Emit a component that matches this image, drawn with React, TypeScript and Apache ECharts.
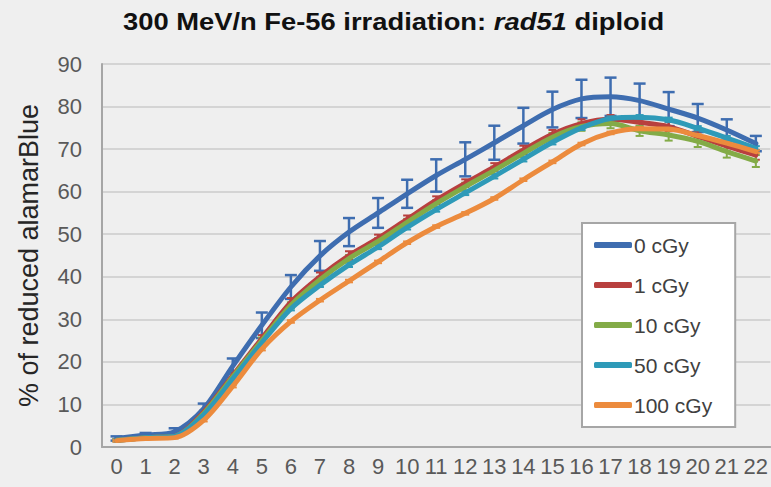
import React, { useEffect, useRef } from "react";
import * as echarts from "echarts";

const categories = ["0","1","2","3","4","5","6","7","8","9","10","11","12","13","14","15","16","17","18","19","20","21","22"];

const dose0 = [2.0, 2.8, 3.6, 9.0, 19.0, 28.6, 37.6, 44.9, 50.5, 55.0, 59.5, 63.8, 67.6, 71.5, 75.5, 79.3, 81.8, 82.3, 81.4, 79.4, 77.3, 74.5, 71.3];
const err0 = [0.5, 0.5, 0.8, 1.2, 1.8, 3.0, 2.8, 3.5, 3.3, 3.5, 3.3, 3.8, 4.0, 4.0, 4.2, 4.2, 4.5, 4.5, 4.0, 4.0, 3.3, 2.5, 1.8];

const dose1 = [1.6, 2.2, 2.5, 8.2, 16.8, 25.5, 34.0, 40.0, 45.0, 49.0, 53.5, 58.0, 62.0, 65.8, 69.8, 73.5, 76.0, 77.0, 76.3, 75.3, 73.0, 70.7, 68.6];
const err1 = [0.3, 0.3, 0.3, 0.5, 0.6, 0.8, 1.0, 1.0, 1.0, 0.9, 0.9, 0.9, 0.9, 0.9, 1.0, 1.0, 1.0, 1.0, 1.0, 1.1, 1.2, 1.2, 1.1];

const dose10 = [1.6, 2.2, 2.5, 7.9, 16.5, 25.0, 33.3, 39.3, 44.3, 48.3, 52.8, 57.2, 61.2, 65.0, 69.0, 72.8, 75.3, 76.0, 74.3, 73.3, 71.8, 69.4, 67.2];
const err10 = [0.3, 0.3, 0.3, 0.5, 0.6, 0.7, 0.7, 0.7, 0.8, 0.8, 0.8, 0.8, 0.9, 0.9, 0.9, 1.0, 1.0, 1.1, 1.2, 1.3, 1.3, 1.4, 1.4];

const dose50 = [1.6, 2.2, 2.5, 7.6, 16.0, 24.5, 32.5, 38.0, 42.8, 47.0, 51.6, 55.8, 59.7, 63.6, 67.6, 71.6, 75.0, 77.2, 77.5, 76.9, 74.9, 72.6, 70.2];
const err50 = [0.2, 0.2, 0.2, 0.3, 0.4, 0.4, 0.4, 0.4, 0.5, 0.5, 0.5, 0.5, 0.5, 0.5, 0.5, 0.5, 0.5, 0.5, 0.5, 0.5, 0.5, 0.5, 0.5];

const dose100 = [1.5, 2.0, 2.2, 6.3, 14.3, 23.0, 29.5, 34.5, 39.0, 43.5, 48.0, 51.8, 54.9, 58.4, 62.8, 67.0, 71.2, 73.8, 74.8, 74.7, 73.2, 71.4, 69.4];
const err100 = [0.2, 0.2, 0.2, 0.3, 0.3, 0.3, 0.3, 0.3, 0.3, 0.3, 0.3, 0.3, 0.3, 0.3, 0.3, 0.3, 0.3, 0.3, 0.3, 0.3, 0.3, 0.3, 0.3];

const seriesNames = ["0 cGy", "1 cGy", "10 cGy", "50 cGy", "100 cGy"];
const seriesColors = ["#3e6db0", "#b8403e", "#83ab47", "#2e9ab8", "#ec8b3d"];
const seriesValues = [dose0, dose1, dose10, dose50, dose100];
const seriesErrors = [err0, err1, err10, err50, err100];

const FONT = "'Liberation Sans', Arial, Helvetica, sans-serif";

export default function App() {
  const ref = useRef<HTMLDivElement>(null);

  useEffect(() => {
    if (!ref.current) return;
    const chart = echarts.init(ref.current, null, { renderer: "svg" });

    const series: any[] = [];
    seriesNames.forEach((name, s) => {
      const color = seriesColors[s];
      const vals = seriesValues[s];
      const errs = seriesErrors[s];
      const capHalf = s === 0 ? 6 : 4;
      const lw = s === 0 ? 2.5 : 2;
      series.push({
        name: name + " error",
        type: "custom",
        silent: true,
        encode: { x: 0, y: [1, 2] },
        data: vals.map((v, i) => [i, v - errs[i], v + errs[i]]),
        renderItem: (params: any, api: any) => {
          const idx = api.value(0);
          const lo = api.coord([idx, api.value(1)]);
          const hi = api.coord([idx, api.value(2)]);
          const st = { stroke: color, lineWidth: lw };
          return {
            type: "group",
            children: [
              { type: "line", shape: { x1: lo[0], y1: lo[1], x2: hi[0], y2: hi[1] }, style: st },
              { type: "line", shape: { x1: lo[0] - capHalf, y1: lo[1], x2: lo[0] + capHalf, y2: lo[1] }, style: st },
              { type: "line", shape: { x1: hi[0] - capHalf, y1: hi[1], x2: hi[0] + capHalf, y2: hi[1] }, style: st },
            ],
          };
        },
      });
      series.push({
        name,
        type: "line",
        data: vals,
        smooth: 0.3,
        showSymbol: false,
        symbol: "none",
        color,
        lineStyle: { color, width: 5, cap: "round", join: "round" },
      });
    });

    chart.setOption({
      animation: false,
      backgroundColor: "#efefef",
      textStyle: { fontFamily: FONT },
      grid: { left: 102, right: -3, top: 64, bottom: 40, containLabel: false },
      xAxis: {
        type: "category",
        data: categories,
        boundaryGap: true,
        axisLine: { show: true, lineStyle: { color: "#a6a6a6", width: 2 } },
        axisTick: { show: false },
        axisLabel: { interval: 0, fontSize: 22, color: "#595959", margin: 8, fontFamily: FONT },
        splitLine: { show: false },
      },
      yAxis: {
        type: "value",
        min: 0,
        max: 90,
        interval: 10,
        axisLine: { show: true, lineStyle: { color: "#a6a6a6", width: 2 } },
        axisTick: { show: false },
        axisLabel: { fontSize: 22, color: "#595959", margin: 20, fontFamily: FONT },
        splitLine: { lineStyle: { color: "#d4d4d4", width: 2 } },
        name: "% of reduced alamarBlue",
        nameLocation: "middle",
        nameRotate: 90,
        nameGap: 60,
        nameTextStyle: { fontSize: 27, color: "#262626", fontFamily: FONT },
      },
      legend: {
        data: seriesNames,
        orient: "vertical",
        left: 582,
        top: 223,
        backgroundColor: "#ffffff",
        borderColor: "#a6a6a6",
        borderWidth: 2,
        padding: [11.5, 23, 11.5, 12],
        itemGap: 19,
        itemWidth: 38,
        itemHeight: 6,
        icon: "roundRect",
        selectedMode: false,
        textStyle: { fontSize: 21, color: "#404040", fontFamily: FONT, padding: [0, 0, 0, -3] },
      },
      graphic: [
        {
          type: "text",
          x: 393.5,
          y: 22,
          scaleX: 1.14,
          style: {
            text: "{b|300 MeV/n Fe-56 irradiation: }{i|rad51}{b| diploid}",
            align: "center",
            verticalAlign: "middle",
            rich: {
              b: { fontSize: 24, fontWeight: "bold", fontFamily: FONT, fill: "#111111" },
              i: { fontSize: 24, fontWeight: "bold", fontStyle: "italic", fontFamily: FONT, fill: "#111111" },
            },
          },
        },
      ],
      series,
    });

    return () => {
      chart.dispose();
    };
  }, []);

  return (
    <div
      ref={ref}
      style={{ position: "fixed", left: 0, top: 0, width: 771, height: 487 }}
    />
  );
}
